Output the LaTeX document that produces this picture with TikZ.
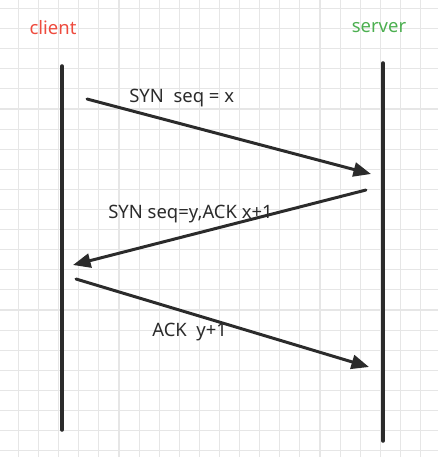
\documentclass[tikz,border=0pt]{standalone}
\usepackage{fontspec}
\setmainfont{Noto Sans}
\usetikzlibrary{arrows.meta}

\definecolor{clientred}{HTML}{EE4B3E}
\definecolor{servergreen}{HTML}{4CAF50}
\definecolor{gridgray}{HTML}{E6E6E6}
\definecolor{linegray}{HTML}{2B2B2B}

\tikzset{
	gridline/.style={gridgray, line width=0.6pt},
	lifeline/.style={linegray, line width=2pt},
	msg/.style={linegray, line width=1.7pt, -{Triangle[length=10pt, width=8pt]}},
	msglabel/.style={text=linegray, font=\fontsize{10.5}{12}\selectfont, inner sep=0pt},
	host/.style={font=\fontsize{10.5}{12}\selectfont, inner sep=0pt}
}

\begin{document}
\begin{tikzpicture}[x=0.02cm, y=-0.02cm, line cap=round, line join=round]
			
			% Define bounding box
			\def\xmax{438} \def\ymax{457}
			\useasboundingbox (0,0) rectangle (\xmax,\ymax);
			
			% Background grid
			\foreach \i in {0,...,21}
			\draw[gridline] ({18.5+20.1*\i},0) -- ({18.5+20.1*\i},\ymax);
			\foreach \i in {0,...,22}
			\draw[gridline] (0,{8.5+20.1*\i}) -- (\xmax,{8.5+20.1*\i});
			
			% Host labels
			\node[host, text=clientred] (client) at (53,28) {client};
			\node[host, text=servergreen] (server) at (379,28) {server};
			
			% Lifelines
			\coordinate (ctop) at (62,66);
			\coordinate (cbot) at (62,430);
			\coordinate (stop) at (383,63);
			\coordinate (sbot) at (383,441);
			\draw[lifeline] (ctop) -- (cbot);
			\draw[lifeline] (stop) -- (sbot);
			
			% Handshake messages
			\coordinate (syn1) at (87,99);
			\coordinate (syn2) at (371,174);
			\coordinate (ack1) at (366,190);
			\coordinate (ack2) at (73,265);
			\coordinate (fin1) at (76,279);
			\coordinate (fin2) at (369,367);
			\draw[msg] (syn1) -- (syn2);
			\draw[msg] (ack1) -- (ack2);
			\draw[msg] (fin1) -- (fin2);
			
			% Message labels
			\node[msglabel, anchor=west] (synlbl) at (129,98) {SYN\ \ seq = x};
			\node[msglabel, anchor=west] (acklbl) at (108,214) {SYN seq=y,ACK x+1};
			\node[msglabel, anchor=west] (finlbl) at (152,332) {ACK\ \ y+1};
			
		\end{tikzpicture}
\end{document}
